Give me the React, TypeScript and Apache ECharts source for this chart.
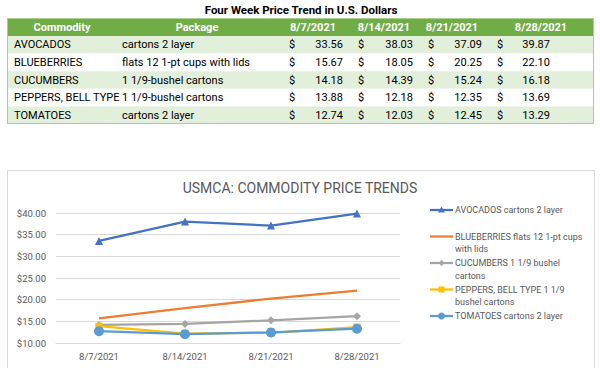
import React, { useEffect, useRef } from "react";
import * as echarts from "echarts";

const tableTitle = "Four Week Price Trend in U.S. Dollars";
const chartTitle = "USMCA: COMMODITY PRICE TRENDS";
const headers = ["Commodity", "Package"];
const weeks = ["8/7/2021", "8/14/2021", "8/21/2021", "8/28/2021"];
const commodities = ["AVOCADOS", "BLUEBERRIES", "CUCUMBERS", "PEPPERS, BELL TYPE", "TOMATOES"];
const packages = [
  "cartons 2 layer",
  "flats 12 1-pt cups with lids",
  "1 1/9-bushel cartons",
  "1 1/9-bushel cartons",
  "cartons 2 layer",
];
const seriesNames = [
  "AVOCADOS cartons 2 layer",
  "BLUEBERRIES flats 12 1-pt cups with lids",
  "CUCUMBERS 1 1/9 bushel cartons",
  "PEPPERS, BELL TYPE 1 1/9 bushel cartons",
  "TOMATOES cartons 2 layer",
];
const legendLabels = [
  "AVOCADOS cartons 2 layer",
  "BLUEBERRIES flats 12 1-pt cups\nwith lids",
  "CUCUMBERS 1 1/9 bushel\ncartons",
  "PEPPERS, BELL TYPE 1 1/9\nbushel cartons",
  "TOMATOES cartons 2 layer",
];
const avocados = [33.56, 38.03, 37.09, 39.87];
const blueberries = [15.67, 18.05, 20.25, 22.1];
const cucumbers = [14.18, 14.39, 15.24, 16.18];
const peppers = [13.88, 12.18, 12.35, 13.69];
const tomatoes = [12.74, 12.03, 12.45, 13.29];
const seriesValues = [avocados, blueberries, cucumbers, peppers, tomatoes];

const colors = ["#4472C4", "#ED7D31", "#A5A5A5", "#FFC000", "#5B9BD5"];
const symbols = ["triangle", "none", "diamond", "rect", "circle"];
const symbolSizes = [8, 0, 8, 7, 10];

const FONT = "Roboto, 'Liberation Sans', Arial, sans-serif";

function buildTable(): any[] {
  const els: any[] = [];
  const left = 7;
  const width = 587;
  const headTop = 18;
  const headH = 18;
  const rowH = 17.6;
  const headerCenters = [62, 197];
  const dateCenters = [313, 384, 452, 541];
  const dollarX = [289, 358, 428, 497];
  const valueRight = [343, 413, 482, 550];

  els.push({
    type: "text",
    x: 301,
    y: 10,
    style: { text: tableTitle, font: `bold 11.5px ${FONT}`, fill: "#000", align: "center", verticalAlign: "middle" },
  });
  els.push({
    type: "rect",
    shape: { x: left, y: headTop, width, height: headH },
    style: { fill: "#70AD47" },
  });
  headers.forEach((h, i) =>
    els.push({
      type: "text",
      x: headerCenters[i],
      y: headTop + headH / 2,
      style: { text: h, font: `bold 11px ${FONT}`, fill: "#fff", align: "center", verticalAlign: "middle" },
    })
  );
  weeks.forEach((w, i) =>
    els.push({
      type: "text",
      x: dateCenters[i],
      y: headTop + headH / 2,
      style: { text: w, font: `bold 11px ${FONT}`, fill: "#fff", align: "center", verticalAlign: "middle" },
    })
  );
  commodities.forEach((c, r) => {
    const top = headTop + headH + r * rowH;
    const cy = top + rowH / 2;
    els.push({
      type: "rect",
      shape: { x: left, y: top, width, height: rowH },
      style: { fill: r % 2 === 0 ? "#E2EFDA" : "#FFFFFF" },
    });
    const ts = (text: string, x: number, align: string) => ({
      type: "text",
      x,
      y: cy,
      style: { text, font: `11px ${FONT}`, fill: "#000", align, verticalAlign: "middle" },
    });
    els.push(ts(c, 14, "left"));
    els.push(ts(packages[r], 122, "left"));
    seriesValues[r].forEach((v, k) => {
      els.push(ts("$", dollarX[k], "left"));
      els.push(ts(v.toFixed(2), valueRight[k], "right"));
    });
  });
  els.push({
    type: "rect",
    shape: { x: left + 0.5, y: headTop + 0.5, width: width - 1, height: headH + rowH * commodities.length - 1 },
    style: { fill: "none", stroke: "#A9D08E", lineWidth: 1 },
  });
  return els;
}

function buildLegend(): any[] {
  const els: any[] = [];
  legendLabels.forEach((label, i) => {
    const y = 210 + i * 26.5;
    const mx = 441.5;
    els.push({
      type: "line",
      shape: { x1: 430, y1: y, x2: 453, y2: y },
      style: { stroke: colors[i], lineWidth: 2.25 },
    });
    const fill = { fill: colors[i] };
    if (symbols[i] === "triangle")
      els.push({ type: "polygon", shape: { points: [[mx, y - 3.5], [mx - 3.5, y + 2.5], [mx + 3.5, y + 2.5]] }, style: fill });
    else if (symbols[i] === "diamond")
      els.push({ type: "polygon", shape: { points: [[mx, y - 3], [mx + 3, y], [mx, y + 3], [mx - 3, y]] }, style: fill });
    else if (symbols[i] === "rect")
      els.push({ type: "rect", shape: { x: mx - 3, y: y - 3, width: 6, height: 6 }, style: fill });
    else if (symbols[i] === "circle")
      els.push({ type: "circle", shape: { cx: mx, cy: y, r: 3.5 }, style: fill });
    els.push({
      type: "text",
      x: 455,
      y: y - 6.25,
      style: {
        text: label,
        font: `9px ${FONT}`,
        fill: "#595959",
        align: "left",
        verticalAlign: "top",
        lineHeight: 12.5,
      },
    });
  });
  return els;
}

export default function App() {
  const ref = useRef<HTMLDivElement>(null);
  useEffect(() => {
    if (!ref.current) return;
    const chart = echarts.init(ref.current, null, { renderer: "svg" });
    chart.setOption({
      animation: false,
      backgroundColor: "#fff",
      title: {
        text: chartTitle,
        left: "center",
        top: 181,
        padding: 0,
        textStyle: { fontFamily: FONT, fontSize: 14, fontWeight: "normal", color: "#595959" },
      },
      grid: { left: 56, right: 200, top: 213, bottom: 25 },
      xAxis: {
        type: "category",
        data: weeks,
        boundaryGap: true,
        axisLine: { lineStyle: { color: "#D9D9D9" } },
        axisTick: { show: false },
        axisLabel: { color: "#595959", fontFamily: FONT, fontSize: 9.5, margin: 8 },
      },
      yAxis: {
        type: "value",
        min: 10,
        max: 40,
        interval: 5,
        axisLine: { show: false },
        axisTick: { show: false },
        splitLine: { lineStyle: { color: "#D9D9D9" } },
        axisLabel: {
          color: "#595959",
          fontFamily: FONT,
          fontSize: 9.5,
          margin: 10,
          formatter: (v: number) => "$" + v.toFixed(2),
        },
      },
      series: seriesValues.map((vals, i) => ({
        name: seriesNames[i],
        type: "line",
        data: vals,
        symbol: symbols[i],
        symbolSize: symbolSizes[i],
        showSymbol: symbols[i] !== "none",
        lineStyle: { color: colors[i], width: 2.25 },
        itemStyle: { color: colors[i], borderWidth: 0 },
      })),
      graphic: [
        {
          type: "rect",
          z: -10,
          shape: { x: 7.5, y: 170.5, width: 587, height: 220 },
          style: { fill: "none", stroke: "#D9D9D9", lineWidth: 1 },
        },
        ...buildTable(),
        ...buildLegend(),
      ],
    });
    return () => chart.dispose();
  }, []);
  return (
    <div
      ref={ref}
      style={{ position: "absolute", left: 0, top: 0, width: 600, height: 368 }}
    />
  );
}
